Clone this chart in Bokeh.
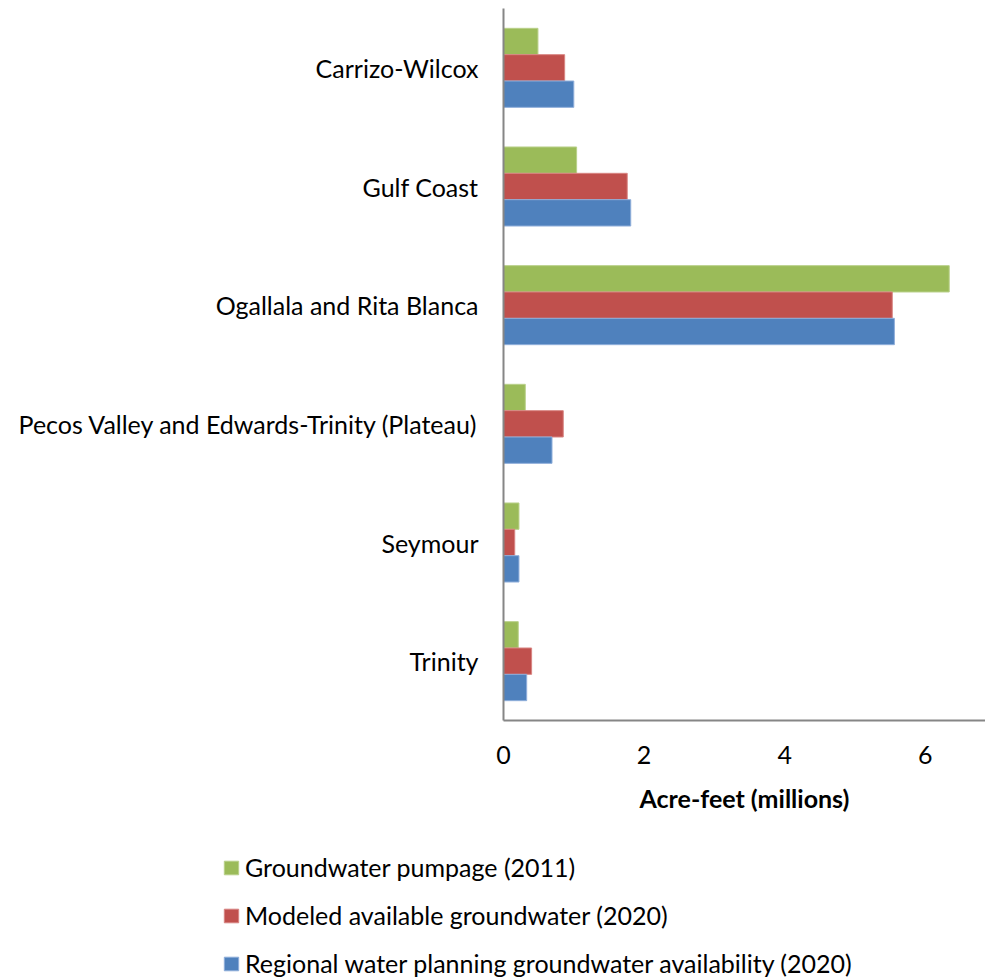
from bokeh.plotting import figure
from bokeh.layouts import column
from bokeh.models import FactorRange, Range1d, FixedTicker, Legend, LegendItem
from bokeh.transform import dodge
from bokeh.embed import file_html
from bokeh.resources import INLINE

# Aquifers, listed top to bottom
aquifers = [
    "Carrizo-Wilcox",
    "Gulf Coast",
    "Ogallala and Rita Blanca",
    "Pecos Valley and Edwards-Trinity (Plateau)",
    "Seymour",
    "Trinity",
]

# Acre-feet, millions
pumpage_2011 = [0.49, 1.04, 6.34, 0.31, 0.22, 0.21]
modeled_available_2020 = [0.87, 1.76, 5.53, 0.85, 0.16, 0.40]
regional_planning_2020 = [1.00, 1.81, 5.56, 0.69, 0.22, 0.33]

series_names = [
    "Groundwater pumpage (2011)",
    "Modeled available groundwater (2020)",
    "Regional water planning groundwater availability (2020)",
]
x_ticks = [0, 2, 4, 6]

FONT = "Lato"
FS = "25px"
GREEN, RED, BLUE = "#9BBB59", "#C0504D", "#4F81BD"
COLORS = [GREEN, RED, BLUE]
EDGES = ["#B9D08A", "#D88583", "#8FAEDA"]
AXIS_GRAY = "#868686"

data = dict(
    aquifer=aquifers,
    pump=pumpage_2011,
    modeled=modeled_available_2020,
    regional=regional_planning_2020,
)
value_cols = ["pump", "modeled", "regional"]
bar_h = 0.222
offsets = [bar_h, 0, -bar_h]


def add_bars(fig):
    """Three dodged horizontal bars per aquifer; returns the renderers."""
    rs = []
    for col, off, fill, edge in zip(value_cols, offsets, COLORS, EDGES):
        rs.append(fig.hbar(y=dodge("aquifer", off, range=fig.y_range), right=col, left=0,
                           height=bar_h, source=data, fill_color=fill,
                           line_color=edge, line_width=1))
    return rs


p = figure(
    width=985, height=830,
    y_range=FactorRange(*reversed(aquifers)),
    x_range=Range1d(0, 6.856),
    output_backend="svg", toolbar_location=None,
    min_border_left=503, min_border_right=0,
    min_border_top=8, min_border_bottom=110,
)
p.outline_line_color = None
p.xgrid.visible = False
p.ygrid.visible = False
add_bars(p)

# Axes
xa = p.xaxis[0]
xa.ticker = FixedTicker(ticks=x_ticks)
xa.axis_label = "Acre-feet (millions)"
xa.axis_label_text_font = FONT
xa.axis_label_text_font_style = "bold"
xa.axis_label_text_font_size = FS
xa.axis_label_text_color = "black"
xa.axis_label_standoff = 16
xa.major_label_text_font = FONT
xa.major_label_text_font_size = FS
xa.major_label_text_color = "black"
xa.major_label_standoff = 19
xa.major_tick_line_color = None
xa.minor_tick_line_color = None
xa.axis_line_color = AXIS_GRAY
xa.axis_line_width = 2

ya = p.yaxis[0]
ya.major_label_text_font = FONT
ya.major_label_text_font_size = FS
ya.major_label_text_color = "black"
ya.major_label_standoff = 19
ya.major_tick_line_color = None
ya.minor_tick_line_color = None
ya.axis_line_color = AXIS_GRAY
ya.axis_line_width = 2

# Legend strip beneath the chart (its own bars sit outside its visible range)
lg = figure(
    width=985, height=148,
    y_range=FactorRange(*reversed(aquifers)),
    x_range=Range1d(-2, -1),
    x_axis_type=None, y_axis_type=None,
    output_backend="svg", toolbar_location=None,
    min_border=0,
)
lg.frame_align = False
lg.outline_line_color = None
lg.xgrid.visible = False
lg.ygrid.visible = False
leg_renderers = add_bars(lg)

legend = Legend(
    items=[LegendItem(label=n, renderers=[r]) for n, r in zip(series_names, leg_renderers)],
    location=(222, 0),
    orientation="vertical",
    glyph_width=18, glyph_height=17,
    label_standoff=5,
    label_height=28,
    spacing=18,
    padding=4, margin=0,
    label_text_font=FONT,
    label_text_font_size=FS,
    label_text_color="black",
    border_line_color=None,
    background_fill_alpha=0,
)
lg.add_layout(legend, "center")

open("out.html", "w").write(file_html(column(p, lg), INLINE))
